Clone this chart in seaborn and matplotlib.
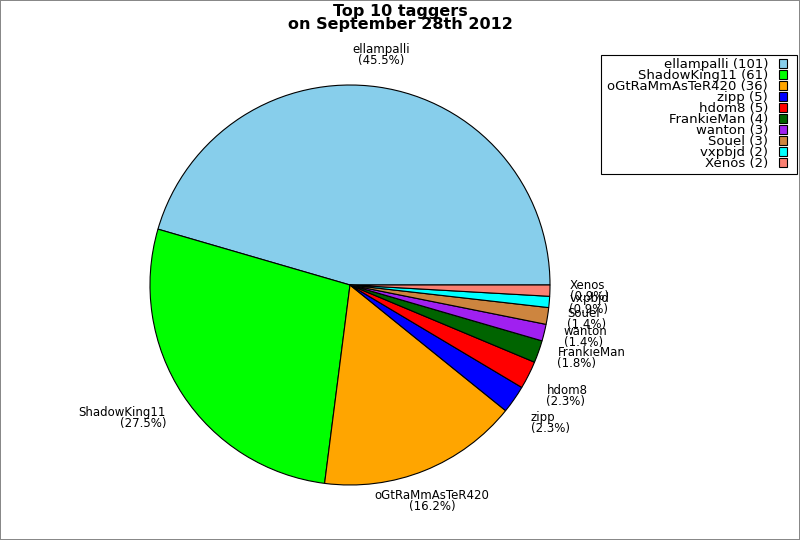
import numpy as np
import matplotlib
matplotlib.use("Agg")
import matplotlib.pyplot as plt
from matplotlib.path import Path
import seaborn as sns

names = ["ellampalli", "ShadowKing11", "oGtRaMmAsTeR420", "zipp", "hdom8",
         "FrankieMan", "wanton", "Souel", "vxpbjd", "Xenos"]
counts = [101, 61, 36, 5, 5, 4, 3, 3, 2, 2]
colors = ["#87CEEB", "#00FF00", "#FFA500", "#0000FF", "#FF0000",
          "#006400", "#A020F0", "#CD853F", "#00FFFF", "#FA8072"]
title = "Top 10 taggers\non September 28th 2012"

sns.set_style("white")
plt.rcParams['font.family'] = ['DejaVu Sans']
plt.rcParams['text.color'] = 'black'

total = sum(counts)
pie_labels = [f"{n}\n({c / total * 100:.1f}%)" for n, c in zip(names, counts)]
legend_labels = [f"{n} ({c})" for n, c in zip(names, counts)]

fig = plt.figure(figsize=(8, 5.4), dpi=100, edgecolor="#888888", linewidth=1.4)
ax = fig.add_axes([150 / 800, 55 / 540, 400 / 800, 400 / 540])
wedges, texts = ax.pie(counts, labels=pie_labels, colors=colors, startangle=0,
                       counterclock=True, labeldistance=1.1,
                       wedgeprops=dict(edgecolor="black", linewidth=0.8),
                       textprops=dict(fontsize=8.5, linespacing=0.8, color="black"))
ax.set_xlim(-1, 1)
ax.set_ylim(-1, 1)
ax.set_aspect("equal")

cum = np.cumsum([0] + counts)
for i, t in enumerate(texts):
    ang = np.deg2rad((cum[i] + cum[i + 1]) / 2 / total * 360)
    c, s = np.cos(ang), np.sin(ang)
    t.set_ha("center" if abs(c) < 0.4 else ("left" if c > 0 else "right"))
    t.set_va("center" if abs(s) < 0.4 else ("bottom" if s > 0 else "top"))
    t.set_clip_on(False)

fig.text(0.5, 0.993, title, ha="center", va="top", fontsize=11.5,
         fontweight="bold", linespacing=0.85, color="black")

# legend frame: wider horizontal padding than vertical
PAD_L, PAD_R = 3.0, 6.5


def legend_box(x0, y0, width, height, mutation_size):
    x1 = x0 + width + PAD_R
    x0 = x0 - PAD_L
    y1 = y0 + height
    return Path([(x0, y0), (x1, y0), (x1, y1), (x0, y1), (x0, y0)],
                [Path.MOVETO, Path.LINETO, Path.LINETO, Path.LINETO,
                 Path.CLOSEPOLY])


leg = fig.legend(wedges, legend_labels, loc="upper right",
                 bbox_to_anchor=((797 - PAD_R) / 800, 1 - 55 / 540),
                 markerfirst=False,
                 fontsize=9.5, labelspacing=-0.15, handlelength=0.65,
                 handleheight=0.7, handletextpad=0.8, borderpad=0.25,
                 borderaxespad=0, fancybox=False, framealpha=1,
                 edgecolor="black", labelcolor="black")
for txt in leg.get_texts():
    txt.set_ha("right")
leg.get_frame().set_boxstyle(legend_box)
leg.get_frame().set_linewidth(0.8)

fig.savefig("out.png", dpi=100, edgecolor=fig.get_edgecolor())
